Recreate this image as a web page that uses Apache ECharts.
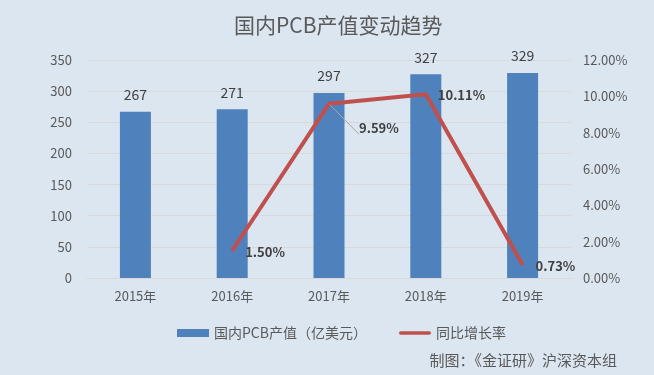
<!DOCTYPE html>
<html><head><meta charset="utf-8">
<script src="https://cdn.jsdelivr.net/npm/echarts@6/dist/echarts.min.js"></script>
<style>html,body{margin:0;padding:0;background:#dce6f1;}#c{width:654px;height:375px;}</style>
</head><body><div id="c"></div>
<script>
const categories = ['2015年','2016年','2017年','2018年','2019年'];
const outputValues = [267, 271, 297, 327, 329];
const growthRates = [null, 1.50, 9.59, 10.11, 0.73];
const leftTicks = [0, 50, 100, 150, 200, 250, 300, 350];
const rightTicks = [0, 2, 4, 6, 8, 10, 12];

const font = "'Noto Sans CJK SC', 'Noto Sans', sans-serif";
const chart = echarts.init(document.getElementById('c'));
const lineData = growthRates.map((v, i) => {
  if (v === null) return '-';
  const item = { value: v };
  if (i === 2) {
    item.label = { position: 'right', offset: [24, 24] };
    item.labelLine = { show: true };
  } else if (i === 3) {
    item.label = { position: 'right', offset: [6, 1] };
  } else {
    item.label = { position: 'right', offset: [7, 1] };
  }
  return item;
});
chart.setOption({
  backgroundColor: '#dce6f1',
  animation: false,
  title: {
    text: '国内PCB产值变动趋势', left: 229, top: 10,
    textStyle: { fontFamily: font, fontSize: 21, fontWeight: 'normal', color: '#595959' }
  },
  legend: {
    bottom: 30, left: 172, itemGap: 32, itemWidth: 32, itemHeight: 8,
    textStyle: { fontFamily: font, fontSize: 14, color: '#595959' },
    data: [
      { name: '国内PCB产值（亿美元）', icon: 'rect' },
      { name: '同比增长率', icon: 'path://M2,0 L34,0 A2,2 0 0 1 34,4 L2,4 A2,2 0 0 1 2,0 Z', itemStyle: { color: '#c0504d', opacity: 1 } }
    ]
  },
  graphic: [{
    type: 'text', right: 37, bottom: 7,
    style: { text: '制图：《金证研》沪深资本组', fontFamily: font, fontSize: 15, fill: '#595959' }
  }],
  grid: { left: 87, right: 83, top: 60, bottom: 97 },
  xAxis: {
    type: 'category', data: categories,
    axisLine: { lineStyle: { color: '#d9d9d9' } }, axisTick: { show: false },
    axisLabel: { fontFamily: font, fontSize: 13, color: '#595959', margin: 12 }
  },
  yAxis: [{
    type: 'value', min: 0, max: 350, interval: 50,
    axisLine: { show: false }, axisTick: { show: false },
    splitLine: { lineStyle: { color: '#d9d9d9' } },
    axisLabel: { fontFamily: font, fontSize: 13, color: '#595959', margin: 15 }
  }, {
    type: 'value', min: 0, max: 12, interval: 2,
    axisLine: { show: false }, axisTick: { show: false }, splitLine: { show: false },
    axisLabel: { fontFamily: font, fontSize: 13, color: '#595959', margin: 12,
      formatter: v => v.toFixed(2) + '%' }
  }],
  series: [{
    name: '国内PCB产值（亿美元）', type: 'bar', data: outputValues, barWidth: 31,
    itemStyle: { color: '#4f81bd' },
    label: { show: true, position: 'top', distance: 10, fontFamily: font, fontSize: 14, color: '#404040' }
  }, {
    name: '同比增长率', type: 'line', yAxisIndex: 1, data: lineData,
    symbol: 'circle', symbolSize: 2, showSymbol: true,
    lineStyle: { color: '#c0504d', width: 4 }, itemStyle: { color: '#c0504d' },
    label: { show: true, fontFamily: font, fontSize: 13, fontWeight: 'bold', color: '#404040',
      formatter: p => Number(p.value).toFixed(2) + '%' },
    labelLine: { lineStyle: { color: '#a6a6a6', width: 1 } }
  }]
});
</script></body></html>
